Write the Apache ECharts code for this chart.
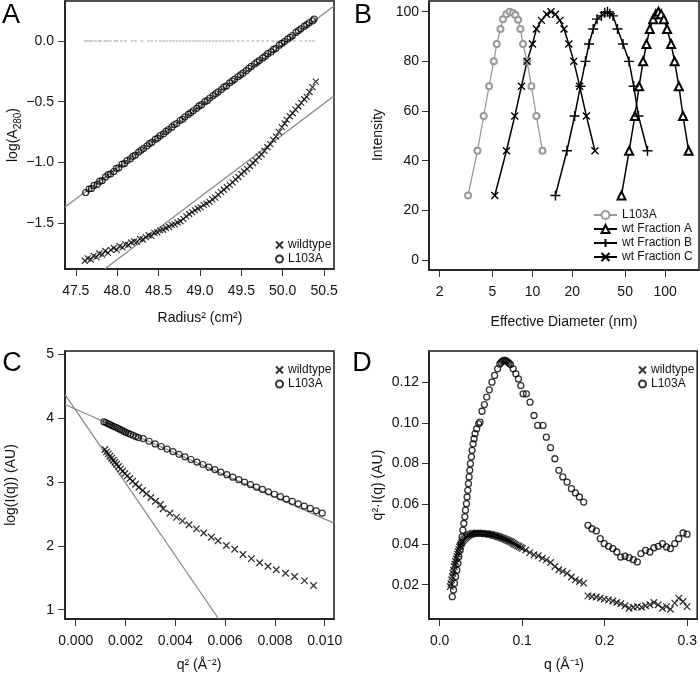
<!DOCTYPE html>
<html>
<head>
<meta charset="utf-8">
<script src="https://cdn.jsdelivr.net/npm/echarts@6/dist/echarts.min.js"></script>
<style>html,body{margin:0;padding:0;background:#fff}#c{width:700px;height:676px}</style>
</head>
<body>
<div id="c"></div>
<script>
// ---------- Panel A: log(A280) vs radius^2 ----------
const aL103A = [[47.62,-1.248],[47.66,-1.22],[47.69,-1.215],[47.72,-1.19],[47.76,-1.18],[47.79,-1.155],[47.82,-1.15],[47.86,-1.12],[47.89,-1.10],[47.92,-1.095],[47.96,-1.075],[47.99,-1.05],[48.02,-1.045],[48.06,-1.015],[48.09,-1.01],[48.12,-0.985],[48.16,-0.97],[48.19,-0.95],[48.22,-0.94],[48.26,-0.915],[48.29,-0.90],[48.32,-0.885],[48.36,-0.865],[48.39,-0.845],[48.42,-0.835],[48.46,-0.81],[48.49,-0.80],[48.52,-0.78],[48.56,-0.765],[48.59,-0.745],[48.62,-0.73],[48.66,-0.71],[48.69,-0.69],[48.72,-0.68],[48.76,-0.655],[48.79,-0.645],[48.82,-0.625],[48.86,-0.605],[48.89,-0.59],[48.92,-0.575],[48.96,-0.555],[48.99,-0.535],[49.02,-0.525],[49.06,-0.50],[49.09,-0.49],[49.12,-0.47],[49.16,-0.45],[49.19,-0.435],[49.22,-0.42],[49.26,-0.40],[49.29,-0.38],[49.32,-0.37],[49.36,-0.345],[49.39,-0.33],[49.42,-0.315],[49.46,-0.295],[49.49,-0.28],[49.52,-0.265],[49.56,-0.245],[49.59,-0.225],[49.62,-0.21],[49.66,-0.19],[49.69,-0.175],[49.72,-0.16],[49.76,-0.14],[49.79,-0.125],[49.82,-0.105],[49.86,-0.09],[49.89,-0.07],[49.92,-0.06],[49.96,-0.035],[49.99,-0.02],[50.02,-0.005],[50.06,0.015],[50.09,0.03],[50.12,0.045],[50.16,0.07],[50.19,0.085],[50.22,0.10],[50.26,0.12],[50.29,0.135],[50.32,0.15],[50.36,0.165],[50.38,0.18]];
const aWild = [[47.61,-1.81],[47.645,-1.79],[47.68,-1.80],[47.715,-1.77],[47.75,-1.78],[47.785,-1.75],[47.82,-1.76],[47.855,-1.73],[47.89,-1.745],[47.925,-1.72],[47.96,-1.705],[47.995,-1.72],[48.03,-1.69],[48.065,-1.70],[48.10,-1.675],[48.135,-1.68],[48.17,-1.66],[48.205,-1.65],[48.24,-1.655],[48.275,-1.63],[48.31,-1.635],[48.345,-1.615],[48.38,-1.60],[48.415,-1.605],[48.45,-1.58],[48.485,-1.575],[48.52,-1.56],[48.555,-1.555],[48.59,-1.54],[48.625,-1.53],[48.66,-1.515],[48.695,-1.51],[48.73,-1.495],[48.765,-1.485],[48.80,-1.465],[48.835,-1.445],[48.87,-1.425],[48.905,-1.41],[48.94,-1.395],[48.975,-1.38],[49.01,-1.37],[49.045,-1.35],[49.08,-1.34],[49.115,-1.325],[49.15,-1.305],[49.185,-1.29],[49.22,-1.265],[49.255,-1.245],[49.29,-1.225],[49.325,-1.205],[49.36,-1.185],[49.395,-1.165],[49.43,-1.14],[49.465,-1.12],[49.50,-1.095],[49.535,-1.075],[49.57,-1.055],[49.605,-1.03],[49.64,-1.005],[49.675,-0.985],[49.71,-0.955],[49.745,-0.935],[49.78,-0.905],[49.815,-0.875],[49.85,-0.85],[49.885,-0.815],[49.92,-0.788],[49.955,-0.75],[49.99,-0.71],[50.025,-0.68],[50.05,-0.65],[50.085,-0.62],[50.12,-0.595],[50.155,-0.565],[50.19,-0.54],[50.225,-0.51],[50.26,-0.48],[50.29,-0.46],[50.325,-0.42],[50.36,-0.38],[50.40,-0.335]];
const aResid = [[47.61,0],[47.64,0],[47.67,0],[47.70,0],[47.74,0],[47.78,0],[47.80,0],[47.85,0],[47.88,0],[47.92,0],[47.97,0],[48.00,0],[48.05,0],[48.10,0],[48.18,0],[48.22,0],[48.30,0],[48.38,0],[48.42,0],[48.47,0],[48.52,0],[48.56,0],[48.60,0],[48.64,0],[48.68,0],[48.72,0],[48.76,0],[48.80,0],[48.84,0],[48.88,0],[48.92,0],[48.96,0],[49.00,0],[49.04,0],[49.08,0],[49.12,0],[49.16,0],[49.20,0],[49.24,0],[49.28,0],[49.32,0],[49.36,0],[49.40,0],[49.46,0],[49.52,0],[49.58,0],[49.64,0],[49.70,0],[49.76,0],[49.82,0],[49.88,0],[49.94,0],[50.00,0],[50.06,0],[50.14,0],[50.22,0],[50.28,0],[50.33,0],[50.37,0]];
const aFitL103A = [[47.37,-1.368],[50.62,0.288]];
const aFitWild = [[47.85,-1.878],[50.62,-0.453]];
const aTicksX = [47.5,48.0,48.5,49.0,49.5,50.0,50.5];
const aTicksY = [-1.5,-1.0,-0.5,0.0];

// ---------- Panel B: intensity vs effective diameter (nm) ----------
const bL103A_d = [3.27,3.85,4.29,4.71,5.11,5.38,5.74,6.0,6.36,6.74,7.14,7.44,7.79,8.11,8.49,9.1,9.82,10.7,11.9];
const bL103A_i = [26,44,58,70,80,87,93,97,99,100,99.5,98.7,96.8,93,87,80,70,58,44];
const bFracA_d = [46.9,53.6,59.2,63.7,68.3,72.4,76.7,81.3,85.2,89.2,93.4,97.8,103.5,111,118,127,136.5,150.6];
const bFracA_i = [26,44,58,70,80,87,93,97,99,100,99,97,93,87,80,70,58,44];
const bFracB_d = [14.9,18.2,20.8,23,25.1,26.7,28.7,30.7,33.1,35.1,36.8,38.3,40.5,43.8,48.2,53.5,58,63,73.7];
const bFracB_i = [26,44,58,70,80,87,93,97,98.3,99.6,100,99.2,98.3,93,87,80,70,58,44];
const bFracC_d = [5.2,6.37,7.36,8.27,9.1,10.0,10.7,11.7,12.8,13.8,14.9,16.1,17.3,18.8,20.5,22.7,25.5,29.6];
const bFracC_i = [26,44,58,70,80,87,93,96.5,99,100,99,96.5,93,87,80,70,58,44];
const bTicksX = [2,5,10,20,50,100];
const bTicksY = [0,20,40,60,80,100];

// ---------- Panel C: Guinier plot ----------
const cL103A = [[0.001134,3.938],[0.001214,3.927],[0.001295,3.911],[0.001375,3.896],[0.001455,3.880],[0.001535,3.865],[0.001615,3.854],[0.001695,3.839],[0.001776,3.823],[0.001856,3.807],[0.001936,3.792],[0.002016,3.776],[0.00211,3.760],[0.002203,3.745],[0.00231,3.729],[0.002417,3.708],[0.002524,3.693],[0.00271,3.677],[0.00295,3.635],[0.00319,3.594],[0.00343,3.553],[0.00367,3.513],[0.00391,3.472],[0.00415,3.431],[0.00439,3.391],[0.00463,3.350],[0.00487,3.310],[0.00511,3.272],[0.00535,3.230],[0.00559,3.192],[0.00583,3.152],[0.00607,3.113],[0.00631,3.074],[0.00655,3.035],[0.00678,2.996],[0.00702,2.958],[0.00726,2.919],[0.00750,2.882],[0.00774,2.844],[0.00798,2.806],[0.00822,2.769],[0.00846,2.731],[0.00870,2.694],[0.00894,2.657],[0.00918,2.621],[0.00942,2.584],[0.00966,2.547],[0.00990,2.511]];
const cWild = [[0.001174,3.505],[0.001241,3.469],[0.001308,3.438],[0.001375,3.401],[0.001442,3.370],[0.001508,3.339],[0.001575,3.307],[0.001642,3.276],[0.001722,3.240],[0.001802,3.203],[0.001883,3.167],[0.001976,3.130],[0.002069,3.094],[0.002176,3.052],[0.002283,3.010],[0.002404,2.964],[0.002537,2.917],[0.002684,2.865],[0.002844,2.813],[0.003018,2.755],[0.003205,2.698],[0.003405,2.646],[0.003512,2.58],[0.00378,2.51],[0.004047,2.445],[0.004287,2.39],[0.004554,2.33],[0.004848,2.265],[0.005142,2.20],[0.005449,2.135],[0.005717,2.08],[0.006051,2.005],[0.006385,1.945],[0.006719,1.865],[0.007053,1.80],[0.007387,1.735],[0.007721,1.68],[0.008055,1.625],[0.008429,1.57],[0.008789,1.52],[0.00919,1.455],[0.009551,1.38]];
const cFitL103A = [[-0.000429,4.21],[0.010373,2.355]];
const cFitWild = [[-0.000429,4.364],[0.005744,0.855]];
const cTicksX = [0,0.002,0.004,0.006,0.008,0.010];
const cTicksY = [1,2,3,4,5];

// ---------- Panel D: Kratky plot ----------
const dL103A = [[0.0153,0.0141],[0.0168,0.0174],[0.018,0.0207],[0.0193,0.024],[0.0209,0.0272],[0.0221,0.0305],[0.0233,0.0338],[0.0249,0.0371],[0.0261,0.0404],[0.0273,0.0437],[0.0281,0.047],[0.0293,0.0503],[0.0305,0.0536],[0.0313,0.0569],[0.0325,0.0601],[0.0333,0.0634],[0.0341,0.0667],[0.0349,0.07],[0.0357,0.0733],[0.0365,0.0766],[0.0373,0.0799],[0.0385,0.0832],[0.0393,0.0865],[0.0405,0.0897],[0.0417,0.0922],[0.0429,0.0947],[0.0449,0.0972],[0.0473,0.0996],[0.0489,0.1004],[0.0513,0.1058],[0.0542,0.1091],[0.057,0.1128],[0.0602,0.1164],[0.0634,0.1202],[0.0666,0.1235],[0.0702,0.1268],[0.073,0.1292],[0.0745,0.1300],[0.0762,0.1306],[0.0778,0.131],[0.0794,0.1309],[0.081,0.1306],[0.0826,0.1301],[0.0842,0.1296],[0.0859,0.1289],[0.0891,0.1268],[0.0923,0.1243],[0.0955,0.1218],[0.0983,0.1185],[0.1011,0.1144],[0.1051,0.1144],[0.1095,0.1103],[0.1143,0.1037],[0.1188,0.0988],[0.1252,0.0988],[0.1292,0.093],[0.1344,0.0878],[0.1396,0.0823],[0.1444,0.0766],[0.1492,0.0733],[0.1544,0.0708],[0.1597,0.0675],[0.1645,0.0654],[0.1693,0.0634],[0.1745,0.0609],[0.1797,0.0494],[0.1845,0.0477],[0.1898,0.0466],[0.1946,0.0428],[0.1994,0.0403],[0.2046,0.039],[0.2098,0.0379],[0.2146,0.0362],[0.2194,0.0337],[0.2246,0.0341],[0.2295,0.0334],[0.2347,0.0324],[0.2395,0.0313],[0.2439,0.0354],[0.2495,0.037],[0.2547,0.0362],[0.2596,0.0383],[0.2648,0.039],[0.27,0.0403],[0.2748,0.0387],[0.2796,0.0379],[0.2848,0.0403],[0.2897,0.0428],[0.2949,0.0456],[0.2997,0.045]];
const dWild = [[0.0129,0.0191],[0.0137,0.0205],[0.0145,0.0224],[0.0153,0.024],[0.0161,0.0257],[0.0169,0.0272],[0.0177,0.029],[0.0185,0.0302],[0.0193,0.0315],[0.0201,0.0328],[0.0209,0.0339],[0.0217,0.0352],[0.0225,0.0364],[0.0233,0.0375],[0.0241,0.0386],[0.0251,0.0394],[0.0261,0.0402],[0.0271,0.041],[0.0281,0.0417],[0.0293,0.0423],[0.0305,0.0428],[0.0317,0.0434],[0.0329,0.0438],[0.0341,0.0442],[0.0353,0.0445],[0.0367,0.0448],[0.0381,0.045],[0.0395,0.0452],[0.0409,0.0453],[0.0425,0.0455],[0.0441,0.0455],[0.0457,0.0456],[0.0473,0.0455],[0.0489,0.0454],[0.0505,0.0455],[0.0521,0.0453],[0.0538,0.0453],[0.0554,0.0452],[0.057,0.0452],[0.0586,0.0451],[0.0602,0.045],[0.0618,0.0449],[0.0634,0.0447],[0.065,0.0445],[0.0666,0.0443],[0.0682,0.0442],[0.0698,0.044],[0.0714,0.0437],[0.073,0.0435],[0.0746,0.0433],[0.0762,0.043],[0.0778,0.0428],[0.0794,0.0425],[0.081,0.0422],[0.0826,0.0419],[0.0842,0.0416],[0.0859,0.0414],[0.0875,0.041],[0.0891,0.0405],[0.0907,0.0401],[0.0923,0.0397],[0.0943,0.0393],[0.0963,0.0389],[0.0983,0.0384],[0.1003,0.038],[0.1043,0.0372],[0.1091,0.0359],[0.1143,0.0348],[0.1195,0.0343],[0.1244,0.0331],[0.1292,0.0323],[0.1344,0.031],[0.1396,0.029],[0.1444,0.0274],[0.1492,0.0266],[0.1544,0.0257],[0.1597,0.0238],[0.1645,0.0224],[0.1693,0.0216],[0.1745,0.0208],[0.1797,0.0145],[0.1845,0.0142],[0.1898,0.0139],[0.1946,0.0134],[0.1994,0.0129],[0.2046,0.0125],[0.2098,0.012],[0.2146,0.0112],[0.2194,0.0106],[0.2246,0.0096],[0.2295,0.0084],[0.2347,0.0089],[0.2395,0.0092],[0.2447,0.0089],[0.2495,0.0096],[0.2547,0.0101],[0.2596,0.0112],[0.2648,0.0101],[0.27,0.0084],[0.2748,0.0092],[0.2796,0.0079],[0.2848,0.0109],[0.2897,0.0134],[0.2949,0.0117],[0.2997,0.0092]];
const dTicksX = [0,0.1,0.2,0.3];
const dTicksY = [0.02,0.04,0.06,0.08,0.10,0.12];

// ---------- build ----------
const F = '"Liberation Sans", Arial, Helvetica, sans-serif';
const CROSS = 'path://M0,0L10,10M10,0L0,10';
const PLUS = 'path://M5,0L5,10M0,5L10,5';
const minus = s => s.replace('-', '\u2212');
const pair = (xs, ys) => xs.map((x, i) => [Math.log10(x), ys[i]]);

function grid(left, top, width, height) {
  return {left, top, width, height, show: true, borderColor: '#1a1a1a', borderWidth: 1.5, backgroundColor: 'transparent', containLabel: false};
}
function axis(gi, min, max, ticks, fmt, margin) {
  return {
    type: 'value', gridIndex: gi, min, max, scale: true,
    axisLine: {show: true, onZero: false, lineStyle: {color: '#1a1a1a', width: 1.5}},
    splitLine: {show: false},
    axisTick: {show: true, inside: false, length: 7, lineStyle: {color: '#333', width: 1}, customValues: ticks},
    axisLabel: {show: true, customValues: ticks, formatter: fmt, margin, fontSize: 14, color: '#111', fontFamily: F}
  };
}
const strip = n => n.split(':')[1];
const hollow = (c, w) => ({color: 'transparent', borderColor: c, borderWidth: w});
const legText = {fontSize: 12, color: '#111', fontFamily: F};

const option = {
  animation: false,
  backgroundColor: '#fff',
  textStyle: {fontFamily: F},
  grid: [grid(65, 1, 269, 268), grid(429, 1, 270, 269), grid(65, 351, 269, 268), grid(429, 351, 270, 268)],
  xAxis: [
    axis(0, 47.37, 50.62, aTicksX, v => v.toFixed(1), 15),
    axis(1, Math.log10(1.66), Math.log10(180.2), bTicksX.map(Math.log10), v => String(Math.round(Math.pow(10, v))), 15),
    axis(2, -0.000429, 0.010373, cTicksX, v => v.toFixed(3), 15),
    axis(3, -0.01288, 0.312, dTicksX, v => v.toFixed(1), 15)
  ],
  yAxis: [
    axis(0, -1.878, 0.329, aTicksY, v => minus(v.toFixed(1)), 11),
    axis(1, -4, 104.3, bTicksY, v => String(v), 10),
    axis(2, 0.855, 5.047, cTicksY, v => String(v), 11),
    axis(3, 0.00306, 0.1356, dTicksY, v => v.toFixed(2), 10)
  ],
  legend: [
    {orient: 'vertical', left: 270, top: 234, itemWidth: 7, itemHeight: 7, itemGap: 2,
     data: ['A:wildtype', 'A:L103A'], formatter: strip, selectedMode: false, textStyle: legText},
    {orient: 'vertical', left: 588, top: 204, itemWidth: 23, itemHeight: 10, itemGap: 2,
     data: ['B:L103A', 'B:wt Fraction A', 'B:wt Fraction B', 'B:wt Fraction C'], formatter: strip, selectedMode: false, textStyle: legText},
    {orient: 'vertical', left: 270, top: 359, itemWidth: 7, itemHeight: 7, itemGap: 2,
     data: ['C:wildtype', 'C:L103A'], formatter: strip, selectedMode: false, textStyle: legText},
    {orient: 'vertical', left: 633, top: 359, itemWidth: 7, itemHeight: 7, itemGap: 2,
     data: ['D:wildtype', 'D:L103A'], formatter: strip, selectedMode: false, textStyle: legText}
  ],
  series: [
    // A
    {name: 'A:fit1', type: 'line', xAxisIndex: 0, yAxisIndex: 0, data: aFitL103A, symbol: 'none', lineStyle: {color: '#888', width: 1.3}, silent: true, z: 1},
    {name: 'A:fit2', type: 'line', xAxisIndex: 0, yAxisIndex: 0, data: aFitWild, symbol: 'none', lineStyle: {color: '#888', width: 1.3}, silent: true, z: 1},
    {name: 'A:resid', type: 'scatter', xAxisIndex: 0, yAxisIndex: 0, data: aResid, symbol: 'rect', symbolSize: [2.5, 1.2], itemStyle: {color: '#999'}, silent: true},
    {name: 'A:wildtype', type: 'scatter', xAxisIndex: 0, yAxisIndex: 0, data: aWild, symbol: CROSS, symbolSize: 6, itemStyle: hollow('#000', 1.2)},
    {name: 'A:L103A', type: 'scatter', xAxisIndex: 0, yAxisIndex: 0, data: aL103A, symbol: 'circle', symbolSize: 6, itemStyle: hollow('#000', 1.2)},
    // B
    {name: 'B:L103A', type: 'line', xAxisIndex: 1, yAxisIndex: 1, data: pair(bL103A_d, bL103A_i), symbol: 'emptyCircle', symbolSize: 6, showAllSymbol: true,
     lineStyle: {color: '#999', width: 1.3}, itemStyle: {color: '#999', borderColor: '#999', borderWidth: 1.2}},
    {name: 'B:wt Fraction A', type: 'line', xAxisIndex: 1, yAxisIndex: 1, data: pair(bFracA_d, bFracA_i), symbol: 'emptyTriangle', symbolSize: 8, showAllSymbol: true,
     lineStyle: {color: '#000', width: 1.5}, itemStyle: {color: '#000', borderColor: '#000', borderWidth: 1.2}},
    {name: 'B:wt Fraction B', type: 'line', xAxisIndex: 1, yAxisIndex: 1, data: pair(bFracB_d, bFracB_i), symbol: PLUS, symbolSize: 10, showAllSymbol: true,
     lineStyle: {color: '#000', width: 1.5}, itemStyle: {color: 'transparent', borderColor: '#000', borderWidth: 1.4}},
    {name: 'B:wt Fraction C', type: 'line', xAxisIndex: 1, yAxisIndex: 1, data: pair(bFracC_d, bFracC_i), symbol: CROSS, symbolSize: 7, showAllSymbol: true,
     lineStyle: {color: '#000', width: 1.5}, itemStyle: {color: 'transparent', borderColor: '#000', borderWidth: 1.4}},
    // C
    {name: 'C:fit1', type: 'line', xAxisIndex: 2, yAxisIndex: 2, data: cFitL103A, symbol: 'none', lineStyle: {color: '#888', width: 1.3}, silent: true, z: 1},
    {name: 'C:fit2', type: 'line', xAxisIndex: 2, yAxisIndex: 2, data: cFitWild, symbol: 'none', lineStyle: {color: '#888', width: 1.3}, silent: true, z: 1},
    {name: 'C:wildtype', type: 'scatter', xAxisIndex: 2, yAxisIndex: 2, data: cWild, symbol: CROSS, symbolSize: 6.5, itemStyle: hollow('#000', 1.3)},
    {name: 'C:L103A', type: 'scatter', xAxisIndex: 2, yAxisIndex: 2, data: cL103A, symbol: 'circle', symbolSize: 6, itemStyle: hollow('#000', 1.2)},
    // D
    {name: 'D:wildtype', type: 'scatter', xAxisIndex: 3, yAxisIndex: 3, data: dWild, symbol: CROSS, symbolSize: 6.5, itemStyle: hollow('#000', 1.3)},
    {name: 'D:L103A', type: 'scatter', xAxisIndex: 3, yAxisIndex: 3, data: dL103A, symbol: 'circle', symbolSize: 6, itemStyle: hollow('#000', 1.3)}
  ],
  graphic: [
    {type: 'text', x: 11, y: 16, style: {text: 'A', font: '27px ' + F, fill: '#000', align: 'center', verticalAlign: 'middle'}},
    {type: 'text', x: 363, y: 16, style: {text: 'B', font: '27px ' + F, fill: '#000', align: 'center', verticalAlign: 'middle'}},
    {type: 'text', x: 12, y: 364, style: {text: 'C', font: '27px ' + F, fill: '#000', align: 'center', verticalAlign: 'middle'}},
    {type: 'text', x: 362, y: 364, style: {text: 'D', font: '27px ' + F, fill: '#000', align: 'center', verticalAlign: 'middle'}},
    {type: 'text', x: 200, y: 318, style: {text: 'Radius\u00b2 (cm\u00b2)', font: '14px ' + F, fill: '#111', align: 'center', verticalAlign: 'middle'}},
    {type: 'text', x: 13, y: 135, rotation: Math.PI / 2, style: {
      text: '{n|log(A}{s|280}{n|)}', fill: '#111', align: 'center', verticalAlign: 'middle',
      rich: {
        n: {fontSize: 14, fontFamily: F, lineHeight: 20, verticalAlign: 'middle', fill: '#111'},
        s: {fontSize: 10, fontFamily: F, lineHeight: 10, verticalAlign: 'bottom', fill: '#111'}
      }}},
    {type: 'text', x: 564, y: 322, style: {text: 'Effective Diameter (nm)', font: '14px ' + F, fill: '#111', align: 'center', verticalAlign: 'middle'}},
    {type: 'text', x: 378, y: 135, rotation: Math.PI / 2, style: {text: 'Intensity', font: '14px ' + F, fill: '#111', align: 'center', verticalAlign: 'middle'}},
    {type: 'text', x: 199, y: 665, style: {text: 'q\u00b2 (\u00c5\u207b\u00b2)', font: '14px ' + F, fill: '#111', align: 'center', verticalAlign: 'middle'}},
    {type: 'text', x: 11, y: 485, rotation: Math.PI / 2, style: {text: 'log(I(q)) (AU)', font: '14px ' + F, fill: '#111', align: 'center', verticalAlign: 'middle'}},
    {type: 'text', x: 564, y: 665, style: {text: 'q (\u00c5\u207b\u00b9)', font: '14px ' + F, fill: '#111', align: 'center', verticalAlign: 'middle'}},
    {type: 'text', x: 378, y: 485, rotation: Math.PI / 2, style: {text: 'q\u00b2\u00b7I(q) (AU)', font: '14px ' + F, fill: '#111', align: 'center', verticalAlign: 'middle'}}
  ]
};
const chart = echarts.init(document.getElementById('c'), null, {renderer: 'canvas'});
chart.setOption(option);
</script>
</body>
</html>
